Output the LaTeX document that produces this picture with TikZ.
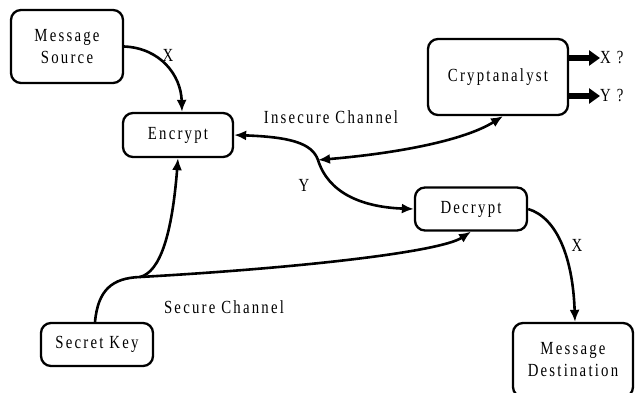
\documentclass[tikz,border=0pt]{standalone}
\usepackage{fontspec}
\setmainfont{Liberation Serif}[FakeStretch=0.8, LetterSpace=12]
\usetikzlibrary{arrows.meta}
\begin{document}
\begin{tikzpicture}[x=1pt,y=-1pt,
  txt/.style={font=\fontsize{18.5}{22}\selectfont},
  box/.style={txt, draw, line width=2.3pt, rounded corners=10pt, align=center, inner sep=0pt},
  lbl/.style={txt, inner sep=0pt},
  link/.style={line width=2.6pt},
  conn/.style={link, -{Latex[length=12pt,width=10pt]}},
  both/.style={link, {Latex[length=12pt,width=10pt]}-{Latex[length=12pt,width=10pt]}},
  fat/.style={line width=6pt, -{Triangle[length=11pt,width=15pt]}}]
\useasboundingbox (0,0) rectangle (635,393);
\node[box, minimum width=112pt, minimum height=73pt] (src) at (67,46.5) {Message\\Source};
\node[box, minimum width=110pt, minimum height=44pt] (enc) at (178,135) {Encrypt};
\node[box, minimum width=140pt, minimum height=76pt] (cry) at (498,77) {Cryptanalyst};
\node[box, minimum width=112pt, minimum height=43pt] (dec) at (471,209) {Decrypt};
\node[box, minimum width=112pt, minimum height=43pt] (key) at (97,344.5) {Secret Key};
\node[box, minimum width=120pt, minimum height=74pt] (dst) at (573,360) {Message\\Destination};
\node[lbl, anchor=west] (xq) at (600,58) {X ?};
\node[lbl, anchor=west] (yq) at (600,96) {Y ?};
\node[lbl] (lx1) at (168,55) {X};
\node[lbl] (ins) at (331,117) {Insecure Channel};
\node[lbl] (ly) at (304,185) {Y};
\node[lbl] (sec) at (224,307) {Secure Channel};
\node[lbl] (lx2) at (577,245) {X};
\coordinate (j1) at (140,277);
\coordinate (j2) at (318,160);
\draw[conn] (src.east) .. controls (160,48) and (181,75) .. ([xshift=4pt]enc.north);
\draw[link] ([xshift=-2pt]key.north) .. controls (98,290) and (112,278) .. (j1);
\draw[conn] (j1) .. controls (160,272) and (172,235) .. (enc.south);
\draw[conn] (j1) .. controls (300,268) and (440,252) .. (dec.south);
\draw[both] (enc.east) .. controls (290,137) and (312,143) .. (j2) .. controls (328,192) and (360,207) .. (dec.west);
\draw[both] (j2) .. controls (400,153) and (465,140) .. ([xshift=5pt]cry.south);
\draw[conn] (dec.east) .. controls (558,218) and (573,260) .. ([xshift=2pt]dst.north);
\draw[fat] (cry.east |- xq.west) -- (xq.west);
\draw[fat] (cry.east |- yq.west) -- (yq.west);
\end{tikzpicture}
\end{document}
